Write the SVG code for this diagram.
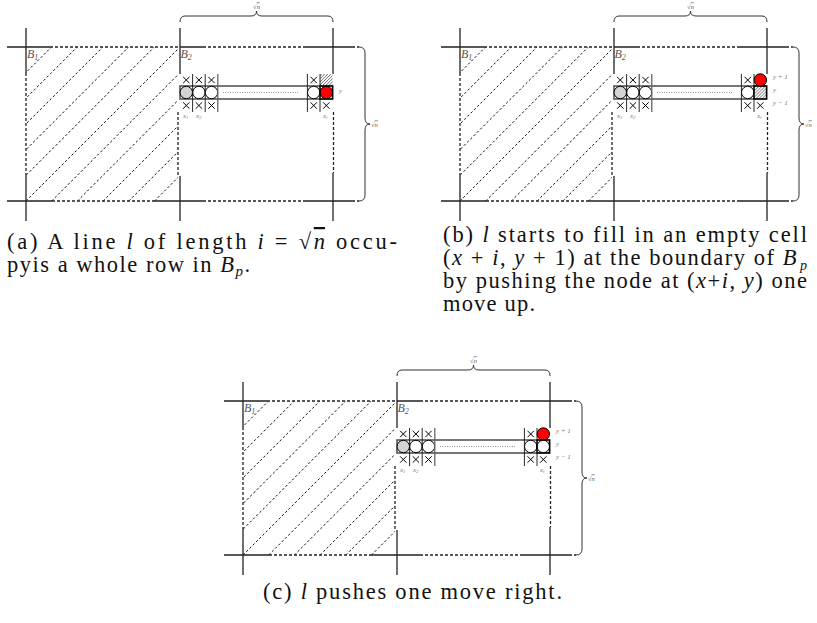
<svg xmlns="http://www.w3.org/2000/svg" xmlns:xlink="http://www.w3.org/1999/xlink" width="817" height="623" viewBox="0 0 817 623">
<style>
.ln{stroke:#222;stroke-width:1.3;fill:none}
.dash{stroke-dasharray:3 2}
.hat{stroke:#111;stroke-width:1;stroke-dasharray:2.4 2.2;fill:none}
.br{stroke:#333;stroke-width:1;fill:none}
.sep{stroke:#111;stroke-width:0.9}
.sep2{stroke:#666;stroke-width:1.3}
.row{fill:none;stroke:#555;stroke-width:1.6}
.dot{stroke:#555;stroke-width:0.8;stroke-dasharray:0.8 1.6}
.c{stroke:#000;stroke-width:1;fill:#fff}
.cg{stroke:#000;stroke-width:1;fill:#d3d3d3}
.cr{stroke:#000;stroke-width:1;fill:#f00}
.xm{stroke:#000;stroke-width:1;fill:none}
.bx{stroke:#000;stroke-width:1.3;fill:none}
.lab{font-family:"Liberation Serif","DejaVu Serif",serif;font-style:italic;fill:#777;font-size:7px}
.blab{font-family:"Liberation Serif","DejaVu Serif",serif;font-style:italic;fill:#555;font-size:12px}
.sq{font-family:"Liberation Serif","DejaVu Serif",serif;fill:#555;font-size:6.5px}
.cap{font-family:"Liberation Serif","DejaVu Serif",serif;fill:#111;font-size:22.5px}
.it{font-style:italic}
</style>
<defs>
<clipPath id="clipB1"><rect x="26" y="47" width="152" height="154"/></clipPath>
<pattern id="dense" width="2.2" height="2.2" patternUnits="userSpaceOnUse" patternTransform="rotate(45)">
<line x1="0" y1="0" x2="0" y2="2.2" stroke="#000" stroke-width="0.8"/>
</pattern>
<path id="xm" class="xm" d="M-3.2,-3.2L3.2,3.2M-3.2,3.2L3.2,-3.2"/>
<g id="base">
<g clip-path="url(#clipB1)" class="hat">
<path d="M-102.5,201L51.5,47M-76.8,201L77.2,47M-51.1,201L102.9,47M-25.4,201L128.6,47M0.3,201L154.3,47M26,201L180,47M51.7,201L205.7,47M77.4,201L231.4,47M103.1,201L257.1,47M128.8,201L282.8,47M154.5,201L308.5,47"/>
</g>
<path class="ln" d="M7,47H50M180,47H203M305,47H352M7,201H52M153,201H203M305,201H352M26,28V73M26,173V221M180,28V74M180,176V221M333,28V74M333,173V221"/>
<path class="ln dash" d="M50,47H180M203,47H305M352,47H359M52,201H153M203,201H305M352,201H359M26,73V173M178,112V176M333.5,112V173"/>
<path class="br" d="M180,22Q180,16 185,16H251Q256.5,16 256.5,11Q256.5,16 262,16H328Q333,16 333,22"/>
<path class="br" d="M359,47Q365,47 365,53V118Q365,124 370,124Q365,124 365,130V195Q365,201 359,201"/>
<text class="sq" x="256.5" y="8.5" text-anchor="middle">√<tspan class="it" text-decoration="overline">n</tspan></text>
<text class="sq" x="371" y="126.5">√<tspan class="it" text-decoration="overline">n</tspan></text>
<text class="blab" x="27" y="58">B<tspan font-size="8" dy="2">1</tspan></text>
<text class="blab" x="180.5" y="58">B<tspan font-size="8" dy="2">2</tspan></text>
<rect class="row" x="180" y="86" width="152.6" height="13"/>
<line class="dot" x1="223" y1="92.5" x2="298" y2="92.5"/>
<circle class="cg" cx="186.3" cy="92.5" r="6.2"/>
<circle class="c" cx="198.9" cy="92.5" r="6.2"/>
<circle class="c" cx="211.5" cy="92.5" r="6.2"/>
<circle class="c" cx="313.7" cy="92.5" r="6.2"/>
<use href="#xm" x="186.3" y="80"/>
<use href="#xm" x="198.9" y="80"/>
<use href="#xm" x="211.5" y="80"/>
<use href="#xm" x="186.3" y="105.5"/>
<use href="#xm" x="198.9" y="105.5"/>
<use href="#xm" x="211.5" y="105.5"/>
<use href="#xm" x="313.7" y="80"/>
<use href="#xm" x="313.7" y="105.5"/>
<use href="#xm" x="326.3" y="105.5"/>
<path class="sep" d="M192.6,74V112M205.2,74V112M307.4,74V112M320,74V112"/>
<path class="sep2" d="M217.8,74V112"/>
<text class="lab" x="183" y="117.5">x<tspan font-size="5" dy="1.5">1</tspan></text>
<text class="lab" x="196" y="117.5">x<tspan font-size="5" dy="1.5">2</tspan></text>
<text class="lab" x="323" y="117.5">x<tspan font-size="5" dy="1.5">i</tspan></text>
</g>
</defs>

<g id="panel-a">
<use href="#base"/>
<rect x="320" y="74" width="12.6" height="12" fill="url(#dense)"/>
<circle class="cr" cx="326.3" cy="92.5" r="6.2"/>
<rect class="bx" x="320" y="86" width="12.6" height="13"/>
<text class="lab" x="339" y="93">y</text>
</g>

<g id="panel-b" transform="translate(434,0)">
<use href="#base"/>
<circle class="cr" cx="326.3" cy="80" r="6.2"/>
<rect x="320" y="86" width="12.6" height="13" fill="url(#dense)"/>
<rect class="bx" x="320" y="86" width="12.6" height="13"/>
<text class="lab" x="339" y="79">y + 1</text>
<text class="lab" x="339" y="92">y</text>
<text class="lab" x="339" y="105">y − 1</text>
</g>

<g id="panel-c" transform="translate(217,354)">
<use href="#base"/>
<circle class="cr" cx="326.3" cy="80" r="6.2"/>
<circle class="c" cx="326.3" cy="92.5" r="6.2"/>
<rect class="bx" x="320" y="86" width="12.6" height="13"/>
<text class="lab" x="339" y="79">y + 1</text>
<text class="lab" x="339" y="92">y</text>
<text class="lab" x="339" y="105">y − 1</text>
</g>

<g id="captions">
<text class="cap" x="7" y="249" textLength="390" lengthAdjust="spacing">(a) A line <tspan class="it">l</tspan> of length <tspan class="it">i</tspan> = √<tspan class="it" text-decoration="overline">n</tspan> occu-</text>
<text class="cap" x="7" y="272" textLength="243" lengthAdjust="spacing">pyis a whole row in <tspan class="it">B</tspan><tspan class="it" font-size="15" dy="4">p</tspan><tspan dy="-4">.</tspan></text>
<text class="cap" x="443" y="242" textLength="364" lengthAdjust="spacing">(b) <tspan class="it">l</tspan> starts to fill in an empty cell</text>
<text class="cap" x="443" y="265" textLength="364" lengthAdjust="spacing">(<tspan class="it">x</tspan> + <tspan class="it">i</tspan>, <tspan class="it">y</tspan> + 1) at the boundary of <tspan class="it">B</tspan><tspan class="it" font-size="14" dx="2" dy="5">p</tspan></text>
<text class="cap" x="443" y="288" textLength="364" lengthAdjust="spacing">by pushing the node at (<tspan class="it">x</tspan>+<tspan class="it">i</tspan>, <tspan class="it">y</tspan>) one</text>
<text class="cap" x="443" y="311" textLength="92" lengthAdjust="spacing">move up.</text>
<text class="cap" x="263" y="599" textLength="299" lengthAdjust="spacing">(c) <tspan class="it">l</tspan> pushes one move right.</text>
</g>
</svg>
